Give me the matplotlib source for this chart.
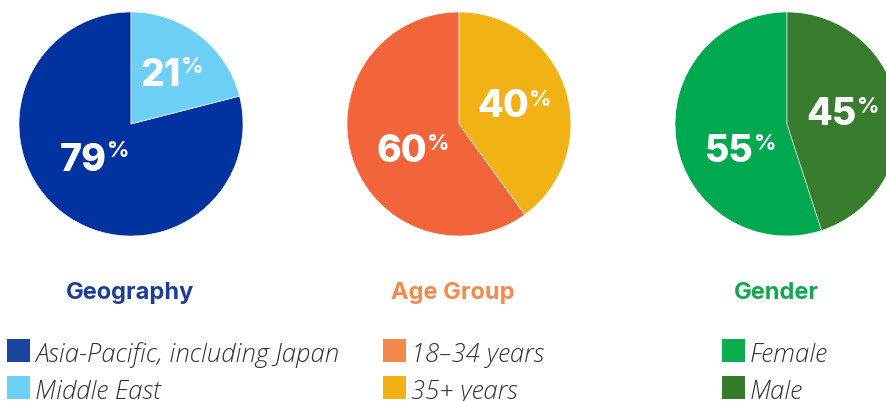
"""Three pie charts: audience split by geography, age group and gender."""

import matplotlib
matplotlib.use("Agg")
import matplotlib.pyplot as plt
from matplotlib.patches import Rectangle

# --- data -----------------------------------------------------------------
group_titles = ["Geography", "Age Group", "Gender"]

geo_labels = ["Asia-Pacific, including Japan", "Middle East"]
geo_values = [79, 21]

age_labels = ["18\u201334 years", "35+ years"]
age_values = [60, 40]

gender_labels = ["Female", "Male"]
gender_values = [55, 45]

# --- style / layout -------------------------------------------------------
W, H = 887, 402
BOLD_FONT = "Inter"
TEXT_FONT = "Open Sans"

pie_colors = [["#0033A0", "#6DCFF6"], ["#F2643A", "#F0B215"], ["#00A94F", "#377D2D"]]
legend_colors = [["#1B449C", "#6DCFF6"], ["#F5884B", "#F0B114"], ["#0BAD4F", "#367B2C"]]
title_colors = ["#1C3F94", "#F58A4B", "#13A84E"]

centers_x = [131, 459, 787]
center_y = 125
radius = 112
title_x = [130, 453, 776]
legend_x = [7, 383, 722]
# (split x offset, baseline y offset, % top y offset) per wedge, px from centre
label_offsets = [
    [(-24, 46, 17), (50, -39, -67)],
    [(-32, 37, 10), (70, -8, -34)],
    [(-33, 37, 10), (70, 0, -27)],
]


def Y(y_px):
    """Pixel row (top-down) -> data y (bottom-up)."""
    return H - y_px


fig = plt.figure(figsize=(W / 100, H / 100), dpi=100)
ax = fig.add_axes([0, 0, 1, 1])

groups = [
    (geo_labels, geo_values),
    (age_labels, age_values),
    (gender_labels, gender_values),
]

for i, (labels, values) in enumerate(groups):
    cx = centers_x[i]
    ax.pie(
        values,
        colors=pie_colors[i],
        startangle=90,
        counterclock=True,
        center=(cx, Y(center_y)),
        radius=radius,
        wedgeprops=dict(edgecolor="white", linewidth=0.4),
    )

    # percentage labels with a raised, smaller % sign
    for v, (dx, dy_base, dy_top) in zip(values, label_offsets[i]):
        ax.text(cx + dx, Y(center_y + dy_base), str(v), ha="right", va="baseline",
                color="white", fontsize=27, fontweight="heavy", family=BOLD_FONT)
        ax.text(cx + dx, Y(center_y + dy_top - 1), "%", ha="left", va="top",
                color="white", fontsize=16, fontweight="bold", family=BOLD_FONT)

    ax.text(title_x[i], Y(299), group_titles[i], ha="center", va="baseline",
            color=title_colors[i], fontsize=17, fontweight="bold", family=BOLD_FONT)

    # legend
    for j, lab in enumerate(labels):
        top = 340 + j * 37
        ax.add_patch(Rectangle((legend_x[i], Y(top + 23)), 23, 23,
                               facecolor=legend_colors[i][j], edgecolor="none"))
        ax.text(legend_x[i] + 28, Y(top + 22), lab, ha="left", va="baseline",
                color="#333333", fontsize=18.5, style="italic", fontweight="light",
                family=TEXT_FONT)

ax.set_xlim(0, W)
ax.set_ylim(0, H)
ax.set_aspect("equal")
ax.axis("off")

fig.savefig("out.png", dpi=100)
